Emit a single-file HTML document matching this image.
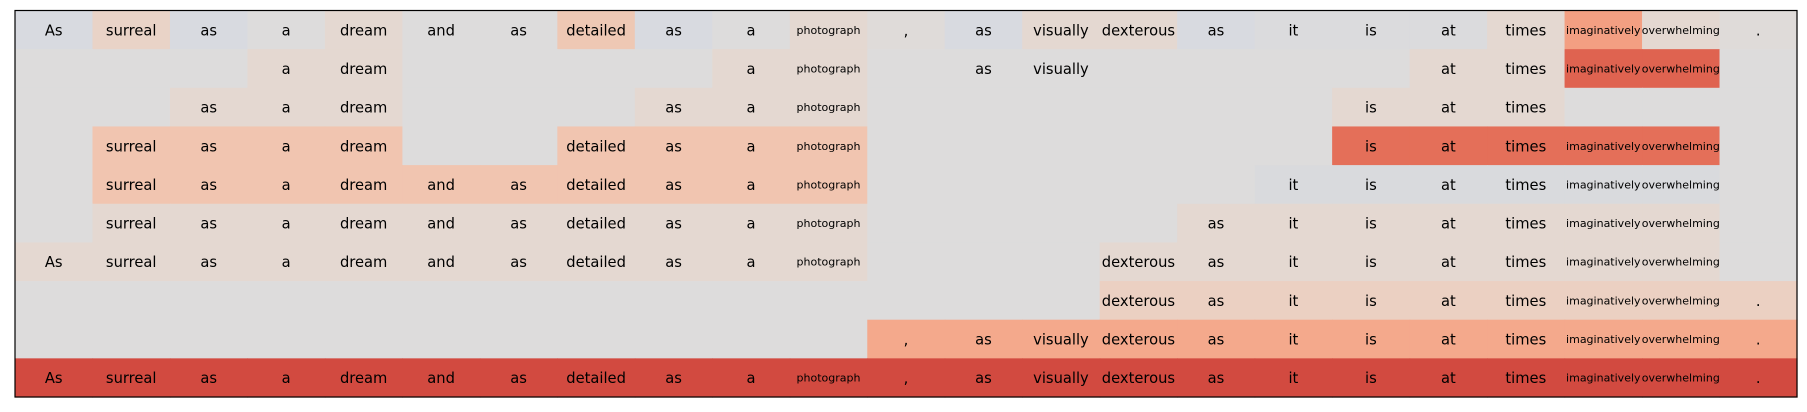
<!DOCTYPE html>
<html>
<head>
<meta charset="utf-8">
<style>
  html,body{margin:0;padding:0;background:#fff;}
  svg{display:block;}
  text{font-family:"DejaVu Sans","Liberation Sans",sans-serif;fill:#000;}
</style>
</head>
<body>
<svg id="chart" width="1807" height="412" viewBox="0 0 1807 412"></svg>
<script>
const tokens = ["As","surreal","as","a","dream","and","as","detailed","as","a","photograph",",","as","visually","dexterous","as","it","is","at","times","imaginatively","overwhelming","."];
const shown = [
  [1,1,1,1,1,1,1,1,1,1,1,1,1,1,1,1,1,1,1,1,1,1,1],
  [0,0,0,1,1,0,0,0,0,1,1,0,1,1,0,0,0,0,1,1,1,1,0],
  [0,0,1,1,1,0,0,0,1,1,1,0,0,0,0,0,0,1,1,1,0,0,0],
  [0,1,1,1,1,0,0,1,1,1,1,0,0,0,0,0,0,1,1,1,1,1,0],
  [0,1,1,1,1,1,1,1,1,1,1,0,0,0,0,0,1,1,1,1,1,1,0],
  [0,1,1,1,1,1,1,1,1,1,1,0,0,0,0,1,1,1,1,1,1,1,0],
  [1,1,1,1,1,1,1,1,1,1,1,0,0,0,1,1,1,1,1,1,1,1,0],
  [0,0,0,0,0,0,0,0,0,0,0,0,0,0,1,1,1,1,1,1,1,1,1],
  [0,0,0,0,0,0,0,0,0,0,0,1,1,1,1,1,1,1,1,1,1,1,1],
  [1,1,1,1,1,1,1,1,1,1,1,1,1,1,1,1,1,1,1,1,1,1,1]
];
const scores = [
  [0.47,0.56,0.47,0.50,0.54,0.50,0.50,0.60,0.47,0.50,0.54,0.51,0.47,0.54,0.54,0.47,0.49,0.49,0.49,0.54,0.76,0.54,0.51],
  [0.50,0.50,0.50,0.54,0.54,0.50,0.50,0.50,0.50,0.54,0.54,0.50,0.50,0.50,0.50,0.50,0.50,0.50,0.54,0.54,0.86,0.86,0.50],
  [0.50,0.50,0.54,0.54,0.54,0.50,0.50,0.50,0.54,0.54,0.54,0.50,0.50,0.50,0.50,0.50,0.50,0.54,0.54,0.54,0.50,0.50,0.50],
  [0.50,0.64,0.64,0.64,0.64,0.50,0.50,0.64,0.64,0.64,0.64,0.50,0.50,0.50,0.50,0.50,0.50,0.84,0.84,0.84,0.84,0.84,0.50],
  [0.50,0.64,0.64,0.64,0.64,0.64,0.64,0.64,0.64,0.64,0.64,0.50,0.50,0.50,0.50,0.50,0.48,0.48,0.48,0.48,0.48,0.48,0.50],
  [0.50,0.54,0.54,0.54,0.54,0.54,0.54,0.54,0.54,0.54,0.54,0.50,0.50,0.50,0.50,0.54,0.54,0.54,0.54,0.54,0.54,0.54,0.50],
  [0.54,0.54,0.54,0.54,0.54,0.54,0.54,0.54,0.54,0.54,0.54,0.50,0.50,0.50,0.54,0.54,0.54,0.54,0.54,0.54,0.54,0.54,0.50],
  [0.50,0.50,0.50,0.50,0.50,0.50,0.50,0.50,0.50,0.50,0.50,0.50,0.50,0.50,0.57,0.57,0.57,0.57,0.57,0.57,0.57,0.57,0.57],
  [0.50,0.50,0.50,0.50,0.50,0.50,0.50,0.50,0.50,0.50,0.50,0.74,0.74,0.74,0.74,0.74,0.74,0.74,0.74,0.74,0.74,0.74,0.74],
  [0.90,0.90,0.90,0.90,0.90,0.90,0.90,0.90,0.90,0.90,0.90,0.90,0.90,0.90,0.90,0.90,0.90,0.90,0.90,0.90,0.90,0.90,0.90]
];

const NS = "http://www.w3.org/2000/svg";
const svg = document.getElementById("chart");
const X0 = 15, X1 = 1797, Y0 = 10.5, Y1 = 397;
const nCols = tokens.length, nRows = scores.length;
const cw = (X1 - X0) / nCols, ch = (Y1 - Y0) / nRows;
function xScale(c){ return X0 + c * cw; }
function yScale(r){ return Y0 + r * ch; }

const stops = [
  [0.40,[200,215,240]],[0.45,[213,219,229]],[0.48,[217,218,221]],[0.50,[221,220,220]],
  [0.54,[228,216,209]],[0.57,[235,208,194]],[0.60,[238,200,180]],[0.64,[241,197,176]],
  [0.70,[244,181,154]],[0.75,[244,166,136]],[0.80,[238,133,108]],[0.85,[226,105,84]],
  [0.90,[210,74,64]],[1.00,[180,4,38]]
];
function cmap(v){
  if (v <= stops[0][0]) return "rgb(" + stops[0][1].join(",") + ")";
  for (let i = 1; i < stops.length; i++) {
    if (v <= stops[i][0]) {
      const a = stops[i-1], b = stops[i];
      const t = (v - a[0]) / (b[0] - a[0]);
      const c = a[1].map((x, k) => Math.round(x + (b[1][k] - x) * t));
      return "rgb(" + c.join(",") + ")";
    }
  }
  return "rgb(" + stops[stops.length-1][1].join(",") + ")";
}

for (let r = 0; r < nRows; r++) {
  for (let c = 0; c < nCols; c++) {
    const rect = document.createElementNS(NS, "rect");
    rect.setAttribute("x", xScale(c));
    rect.setAttribute("y", yScale(r));
    rect.setAttribute("width", cw + 0.6);
    rect.setAttribute("height", ch + 0.6);
    rect.setAttribute("fill", cmap(scores[r][c]));
    
    
    svg.appendChild(rect);
  }
}
for (let r = 0; r < nRows; r++) {
  for (let c = 0; c < nCols; c++) {
    if (!shown[r][c]) continue;
    const t = document.createElementNS(NS, "text");
    const w = tokens[c];
    const small = w.length >= 10;
    t.setAttribute("x", xScale(c) + cw / 2);
    t.setAttribute("y", yScale(r) + ch / 2 + (small ? 4 : 5.5));
    t.setAttribute("text-anchor", "middle");
    t.setAttribute("font-size", small ? "11px" : "14.7px");
    t.textContent = w;
    
    
    svg.appendChild(t);
  }
}
const frame = document.createElementNS(NS, "rect");
frame.setAttribute("x", X0);
frame.setAttribute("y", Y0);
frame.setAttribute("width", X1 - X0);
frame.setAttribute("height", Y1 - Y0);
frame.setAttribute("fill", "none");
frame.setAttribute("stroke", "#000");
frame.setAttribute("stroke-width", "1.2");


svg.appendChild(frame);
</script>
</body>
</html>
